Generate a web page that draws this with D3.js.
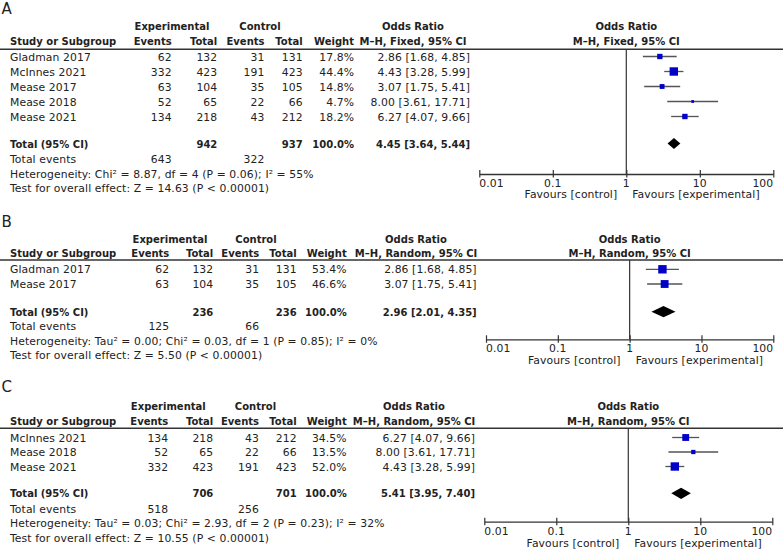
<!DOCTYPE html>
<html>
<head>
<meta charset="utf-8">
<style>
  body { margin: 0; background: #fff; }
  svg { display: block; }
  text { font-family: "DejaVu Sans", sans-serif; fill: #222; }
</style>
</head>
<body>
<svg width="783" height="550"></svg>
<script src="https://d3js.org/d3.v7.min.js"></script>
<script>
// ---- data ----
const studiesA = ["Gladman 2017", "McInnes 2021", "Mease 2017", "Mease 2018", "Mease 2021"]
const expEventsA = [62, 332, 63, 52, 134]
const expTotalA = [132, 423, 104, 65, 218]
const ctrlEventsA = [31, 191, 35, 22, 43]
const ctrlTotalA = [131, 423, 105, 66, 212]
const weightA = [17.8, 44.4, 14.8, 4.7, 18.2]
const orA = [2.86, 4.43, 3.07, 8.00, 6.27]
const loA = [1.68, 3.28, 1.75, 3.61, 4.07]
const hiA = [4.85, 5.99, 5.41, 17.71, 9.66]
const pooledA = [4.45, 3.64, 5.44]
const totalsA = [942, 937]
const totalEventsA = [643, 322]

const studiesB = ["Gladman 2017", "Mease 2017"]
const expEventsB = [62, 63]
const expTotalB = [132, 104]
const ctrlEventsB = [31, 35]
const ctrlTotalB = [131, 105]
const weightB = [53.4, 46.6]
const orB = [2.86, 3.07]
const loB = [1.68, 1.75]
const hiB = [4.85, 5.41]
const pooledB = [2.96, 2.01, 4.35]
const totalsB = [236, 236]
const totalEventsB = [125, 66]

const studiesC = ["McInnes 2021", "Mease 2018", "Mease 2021"]
const expEventsC = [134, 52, 332]
const expTotalC = [218, 65, 423]
const ctrlEventsC = [43, 22, 191]
const ctrlTotalC = [212, 66, 423]
const weightC = [34.5, 13.5, 52.0]
const orC = [6.27, 8.00, 4.43]
const loC = [4.07, 3.61, 3.28]
const hiC = [9.66, 17.71, 5.99]
const pooledC = [5.41, 3.95, 7.40]
const totalsC = [706, 701]
const totalEventsC = [518, 256]

const methods = ["M\u2013H, Fixed, 95% CI", "M\u2013H, Random, 95% CI", "M\u2013H, Random, 95% CI"]
const hetTexts = [
  "Heterogeneity: Chi\u00b2 = 8.87, df = 4 (P = 0.06); I\u00b2 = 55%",
  "Heterogeneity: Tau\u00b2 = 0.00; Chi\u00b2 = 0.03, df = 1 (P = 0.85); I\u00b2 = 0%",
  "Heterogeneity: Tau\u00b2 = 0.03; Chi\u00b2 = 2.93, df = 2 (P = 0.23); I\u00b2 = 32%"
]
const testTexts = [
  "Test for overall effect: Z = 14.63 (P < 0.00001)",
  "Test for overall effect: Z = 5.50 (P < 0.00001)",
  "Test for overall effect: Z = 10.55 (P < 0.00001)"
]
const tickValues = [0.01, 0.1, 1, 10, 100]
const tickLabels = ["0.01", "0.1", "1", "10", "100"]

// ---- layout for each panel ----
const layouts = [
  {label: "A", labelY: 14, h1: 30, h2: 45, line: 49.3, row0: 56.5, step: 15, totY: 143.5, evY: 163, hetY: 177.5, testY: 192.3,
   expC: 172, ctrlC: 260, ev: 171.7, tot: 217.3, cev: 264.5, ctot: 302.7, w: 354, or: 470, orC: 413,
   x0: 479.3, x1: 773.3, axisY: 174, tickY: 186.7, favY: 198.3},
  {label: "B", labelY: 227, h1: 242.7, h2: 256.7, line: 260, row0: 269.3, step: 14.7, totY: 311.7, evY: 330, hetY: 345, testY: 359,
   expC: 170, ctrlC: 256, ev: 169.3, tot: 213.3, cev: 259.3, ctot: 296.7, w: 346.7, or: 476.7, orC: 416,
   x0: 486, x1: 773.3, axisY: 339.3, tickY: 351.7, favY: 363.5},
  {label: "C", labelY: 391.7, h1: 410, h2: 425, line: 428.3, row0: 437.5, step: 14.5, totY: 493.3, evY: 512.7, hetY: 526.7, testY: 541.7,
   expC: 168.3, ctrlC: 255.5, ev: 168.3, tot: 213.3, cev: 259, ctot: 296.7, w: 346.7, or: 475, orC: 414,
   x0: 484.3, x1: 772.3, axisY: 521.7, tickY: 535, favY: 546.7}
]

const panels = [
  {studies: studiesA, ee: expEventsA, et: expTotalA, ce: ctrlEventsA, ct: ctrlTotalA, w: weightA, or: orA, lo: loA, hi: hiA, pooled: pooledA, totals: totalsA, tev: totalEventsA},
  {studies: studiesB, ee: expEventsB, et: expTotalB, ce: ctrlEventsB, ct: ctrlTotalB, w: weightB, or: orB, lo: loB, hi: hiB, pooled: pooledB, totals: totalsB, tev: totalEventsB},
  {studies: studiesC, ee: expEventsC, et: expTotalC, ce: ctrlEventsC, ct: ctrlTotalC, w: weightC, or: orC, lo: loC, hi: hiC, pooled: pooledC, totals: totalsC, tev: totalEventsC}
]

const svg = d3.select("svg")
const f2 = d3.format(".2f")
const ciText = (o, l, h) => `${f2(o)} [${f2(l)}, ${f2(h)}]`

const REG = 10.8, BOLD = 10

function txt(g, x, y, s, opts = {}) {
  return g.append("text")
    .attr("x", x).attr("y", y)
    .attr("text-anchor", opts.anchor || "start")
    .attr("font-size", opts.size || REG)
    .attr("font-weight", opts.bold ? "bold" : null)
    .attr("letter-spacing", opts.bold ? null : (opts.ls == null ? 0.1 : opts.ls))
    .text(s)
}

panels.forEach((p, pi) => {
  const L = layouts[pi]
  const g = svg.append("g")

  // panel letter
  txt(g, 1.5, L.labelY, L.label, {size: 15, ls: 0})

  // headers
  txt(g, L.expC, L.h1, "Experimental", {bold: true, anchor: "middle", size: BOLD})
  txt(g, L.ctrlC, L.h1, "Control", {bold: true, anchor: "middle", size: BOLD})
  txt(g, L.orC, L.h1, "Odds Ratio", {bold: true, anchor: "middle", size: BOLD})
  txt(g, 10, L.h2, "Study or Subgroup", {bold: true, size: BOLD})
  txt(g, L.ev, L.h2, "Events", {bold: true, anchor: "end", size: BOLD})
  txt(g, L.tot, L.h2, "Total", {bold: true, anchor: "end", size: BOLD})
  txt(g, L.cev, L.h2, "Events", {bold: true, anchor: "end", size: BOLD})
  txt(g, L.ctot, L.h2, "Total", {bold: true, anchor: "end", size: BOLD})
  txt(g, L.w, L.h2, "Weight", {bold: true, anchor: "end", size: BOLD})
  txt(g, L.orC, L.h2, methods[pi], {bold: true, anchor: "middle", size: BOLD})

  g.append("line")
    .attr("x1", 0).attr("x2", 783)
    .attr("y1", L.line).attr("y2", L.line)
    .attr("stroke", "#333").attr("stroke-width", 1.4)

  // scales
  const x = d3.scaleLog().domain([0.01, 100]).range([L.x0, L.x1])
  const y = d3.scaleLinear().domain([0, 1]).range([L.row0, L.row0 + L.step])
  const size = d3.scaleSqrt().domain([0, d3.max(p.w)]).range([0, 8.4])

  // rows of the table
  const fmtW = d3.format(".1f")
  p.studies.forEach((s, i) => {
    const yb = y(i) + 4
    txt(g, 10, yb, s)
    txt(g, L.ev, yb, p.ee[i], {anchor: "end"})
    txt(g, L.tot, yb, p.et[i], {anchor: "end"})
    txt(g, L.cev, yb, p.ce[i], {anchor: "end"})
    txt(g, L.ctot, yb, p.ct[i], {anchor: "end"})
    txt(g, L.w, yb, fmtW(p.w[i]) + "%", {anchor: "end"})
    txt(g, L.or, yb, ciText(p.or[i], p.lo[i], p.hi[i]), {anchor: "end"})
  })

  // total row
  const tb = L.totY + 4
  txt(g, 10, tb, "Total (95% CI)", {bold: true, size: BOLD})
  txt(g, L.tot, tb, p.totals[0], {bold: true, anchor: "end", size: BOLD})
  txt(g, L.ctot, tb, p.totals[1], {bold: true, anchor: "end", size: BOLD})
  txt(g, L.w, tb, "100.0%", {bold: true, anchor: "end", size: BOLD})
  txt(g, L.or, tb, ciText(p.pooled[0], p.pooled[1], p.pooled[2]), {bold: true, anchor: "end", size: BOLD})

  txt(g, 10, L.evY, "Total events")
  txt(g, L.ev, L.evY, p.tev[0], {anchor: "end"})
  txt(g, L.cev, L.evY, p.tev[1], {anchor: "end"})
  txt(g, 10, L.hetY, hetTexts[pi])
  txt(g, 10, L.testY, testTexts[pi])

  // forest plot header
  txt(g, x(1), L.h1, "Odds Ratio", {bold: true, anchor: "middle", size: BOLD})
  txt(g, x(1), L.h2, methods[pi], {bold: true, anchor: "middle", size: BOLD})

  // line of no effect
  g.append("line")
    .attr("x1", x(1)).attr("x2", x(1))
    .attr("y1", L.line).attr("y2", L.axisY)
    .attr("stroke", "#333").attr("stroke-width", 1.2)

  // axis
  const axis = d3.axisBottom(x).tickValues(tickValues).tickSize(0).tickFormat("")
  const ag = g.append("g").attr("transform", `translate(0,${L.axisY})`).call(axis)
  ag.select(".domain").attr("stroke", "#333").attr("stroke-width", 1.3)
  ag.selectAll(".tick").append("line")
    .attr("y1", -4).attr("y2", 3.5)
    .attr("stroke", "#333").attr("stroke-width", 1.2)
  tickValues.forEach((t, i) => {
    const anchor = i === 0 ? "start" : (i === tickValues.length - 1 ? "end" : "middle")
    txt(g, x(t), L.tickY, tickLabels[i], {anchor})
  })
  txt(g, x(1) - 9, L.favY, "Favours [control]", {anchor: "end"})
  txt(g, x(1) + 6, L.favY, "Favours [experimental]")

  // confidence intervals
  g.selectAll(".ci").data(p.or).join("line")
    .attr("x1", (d, i) => x(p.lo[i])).attr("x2", (d, i) => x(p.hi[i]))
    .attr("y1", (d, i) => y(i)).attr("y2", (d, i) => y(i))
    .attr("stroke", "#555").attr("stroke-width", 1.3)

  // weighted squares
  g.selectAll(".sq").data(p.or).join("rect")
    .attr("x", (d, i) => x(d) - size(p.w[i]) / 2)
    .attr("y", (d, i) => y(i) - size(p.w[i]) / 2)
    .attr("width", (d, i) => size(p.w[i]))
    .attr("height", (d, i) => size(p.w[i]))
    .attr("fill", "#0000c8")

  // pooled diamond
  const [po, pl, ph] = p.pooled
  g.append("path")
    .attr("d", `M${x(pl)},${L.totY} L${x(po)},${L.totY - 5.6} L${x(ph)},${L.totY} L${x(po)},${L.totY + 5.6} Z`)
    .attr("fill", "#000")
})
</script>
</body>
</html>
